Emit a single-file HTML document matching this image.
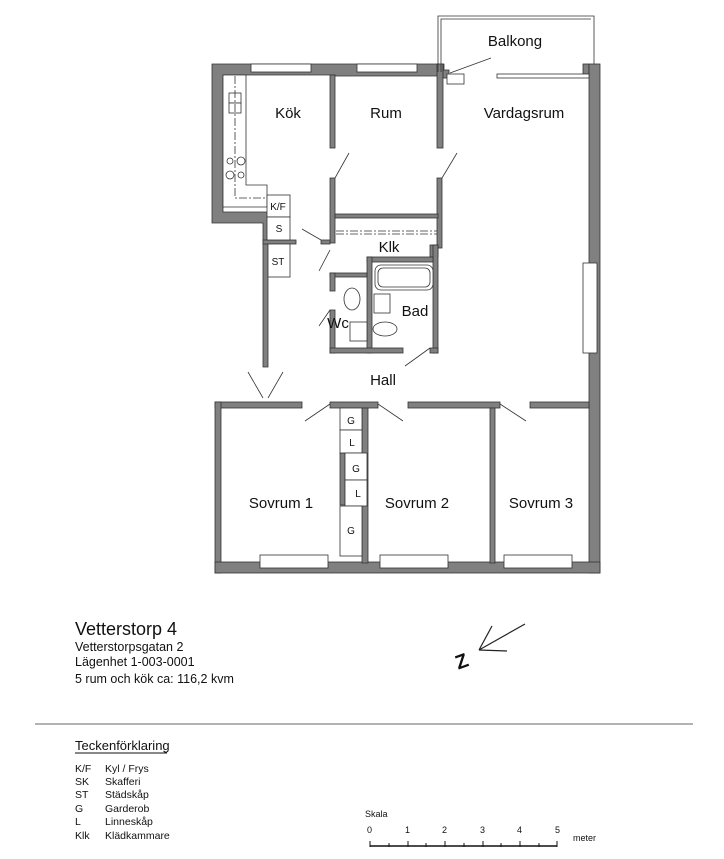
<!DOCTYPE html>
<html><head><meta charset="utf-8"><style>
html,body{margin:0;padding:0;background:#fff;}
svg{display:block;font-family:"Liberation Sans",Arial,sans-serif;}
</style></head><body>
<svg width="724" height="859" viewBox="0 0 724 859" xmlns="http://www.w3.org/2000/svg">
<g fill="#808080" stroke="#333" stroke-width="0.8">
<path d="M212,64 H444 V76 H335 V75 H223 V212 H268 V367 H263 V223 H212 Z"/>
<rect x="330" y="75" width="5" height="73"/>
<rect x="330" y="178" width="5" height="65"/>
<rect x="437" y="64" width="6" height="84"/>
<rect x="437" y="178" width="5" height="70"/>
<rect x="443" y="70" width="6" height="8"/>
<rect x="583" y="64" width="6" height="10"/>
<rect x="589" y="64" width="11" height="509"/>
<rect x="335" y="214" width="103" height="4"/>
<rect x="430" y="245" width="8" height="12"/>
<rect x="433" y="245" width="5" height="108"/>
<rect x="367" y="257" width="66" height="5"/>
<rect x="367" y="257" width="5" height="96"/>
<rect x="330" y="273" width="37" height="4"/>
<rect x="330" y="273" width="5" height="18"/>
<rect x="330" y="310" width="5" height="43"/>
<rect x="330" y="348" width="73" height="5"/>
<rect x="430" y="348" width="8" height="5"/>
<rect x="321" y="240" width="9" height="4"/>
<rect x="263" y="240" width="33" height="4"/>
<rect x="215" y="402" width="87" height="6"/>
<rect x="330" y="402" width="48" height="6"/>
<rect x="408" y="402" width="92" height="6"/>
<rect x="530" y="402" width="59" height="6"/>
<rect x="215" y="402" width="6" height="171"/>
<rect x="215" y="562" width="385" height="11"/>
<rect x="362" y="408" width="6" height="155"/>
<rect x="490" y="408" width="5" height="155"/>
<rect x="340" y="453" width="5" height="52"/>
</g>
<g fill="#fff" stroke="#333" stroke-width="0.8">
<rect x="251" y="64" width="60" height="8"/>
<rect x="357" y="64" width="60" height="8"/>
<rect x="497" y="74" width="92" height="4"/>
<rect x="447" y="74" width="17" height="10"/>
<rect x="583" y="263" width="14" height="90"/>
<rect x="260" y="555" width="68" height="13"/>
<rect x="380" y="555" width="68" height="13"/>
<rect x="504" y="555" width="68" height="13"/>
<path d="M223,75 H246 V185 H267 V207 H223 Z"/>
<rect x="267" y="195" width="23" height="22"/>
<rect x="267" y="217" width="23" height="23"/>
<rect x="268" y="244" width="22" height="33"/>
<rect x="229" y="93" width="12" height="10"/>
<rect x="229" y="103" width="12" height="10"/>
<rect x="340" y="408" width="22" height="22"/>
<rect x="340" y="430" width="22" height="23"/>
<rect x="345" y="453" width="22" height="27"/>
<rect x="345" y="480" width="22" height="26"/>
<rect x="340" y="506" width="22" height="50"/>
<rect x="375" y="265" width="58" height="25" rx="6"/>
<rect x="378" y="268" width="52" height="19" rx="5"/>
<rect x="374" y="294" width="16" height="19"/>
<rect x="350" y="322" width="17" height="19"/>
<ellipse cx="352" cy="299" rx="8" ry="11"/>
<ellipse cx="385" cy="329" rx="12" ry="7"/>
<circle cx="230" cy="161" r="3"/><circle cx="241" cy="161" r="4"/>
<circle cx="230" cy="175" r="4"/><circle cx="241" cy="175" r="3"/>
</g>
<g fill="none" stroke="#333" stroke-width="0.8">
<path d="M438,72 V16 H594 V64"/>
<path d="M441,72 V19 H591"/>
<path d="M235,76 V198 H267" stroke-dasharray="8,2,2,2"/>
<path d="M336,231 H437 M336,234 H437" stroke-dasharray="8,2,2,2"/>
<path d="M335,178 L349,153 M442,178 L457,153 M321,240 L302,229 M330,250 L319,271 M330,310 L319,326 M430,348 L405,366 M450,73 L491,58"/>
<path d="M263,398 L248,372 M268,398 L283,372"/>
<path d="M330,404 L305,421 M378,404 L403,421 M500,404 L526,421"/>
</g>
<g font-size="15" fill="#111" text-anchor="middle">
<text x="288" y="118">Kök</text><text x="386" y="118">Rum</text>
<text x="524" y="118">Vardagsrum</text><text x="515" y="46">Balkong</text>
<text x="389" y="252">Klk</text><text x="415" y="316">Bad</text>
<text x="338" y="328">Wc</text><text x="383" y="385">Hall</text>
<text x="281" y="508">Sovrum 1</text><text x="417" y="508">Sovrum 2</text>
<text x="541" y="508">Sovrum 3</text>
</g>
<g font-size="10" fill="#111" text-anchor="middle">
<text x="278" y="210">K/F</text><text x="279" y="232">S</text><text x="278" y="265">ST</text>
<text x="351" y="424">G</text><text x="352" y="446">L</text><text x="356" y="472">G</text>
<text x="358" y="497">L</text><text x="351" y="534">G</text>
</g>
<text x="75" y="635" font-size="18" fill="#111">Vetterstorp 4</text>
<g font-size="12.5" fill="#111">
<text x="75" y="651">Vetterstorpsgatan 2</text>
<text x="75" y="666">Lägenhet 1-003-0001</text>
<text x="75" y="683">5 rum och kök  ca: 116,2 kvm</text>
</g>
<g stroke="#222" stroke-width="1.2" fill="none">
<path d="M479,650 L525,624 M479,650 L492,626 M479,650 L507,651"/>
</g>
<text x="462" y="668" font-size="20" font-weight="bold" fill="#111" transform="rotate(-20 462 662)" text-anchor="middle">Z</text>
<line x1="35" y1="724" x2="693" y2="724" stroke="#666" stroke-width="1"/>
<text x="75" y="750" font-size="13" fill="#111">Teckenförklaring</text>
<line x1="75" y1="753" x2="167" y2="753" stroke="#111"/>
<g font-size="10.5" fill="#111">
<text x="75" y="772">K/F</text><text x="105" y="772">Kyl / Frys</text>
<text x="75" y="785">SK</text><text x="105" y="785">Skafferi</text>
<text x="75" y="798">ST</text><text x="105" y="798">Städskåp</text>
<text x="75" y="812">G</text><text x="105" y="812">Garderob</text>
<text x="75" y="825">L</text><text x="105" y="825">Linneskåp</text>
<text x="75" y="839">Klk</text><text x="105" y="839">Klädkammare</text>
</g>
<g font-size="9" fill="#111">
<text x="365" y="817">Skala</text>
<text x="367" y="833">0</text><text x="405" y="833">1</text><text x="442" y="833">2</text>
<text x="480" y="833">3</text><text x="517" y="833">4</text><text x="555" y="833">5</text>
<text x="573" y="841">meter</text>
</g>
<g stroke="#111" stroke-width="1">
<line x1="370" y1="846" x2="557" y2="846" stroke-width="1.5"/>
<path d="M370,841V847 M389,843V847 M408,841V847 M426,843V847 M445,841V847 M464,843V847 M483,841V847 M501,843V847 M520,841V847 M539,843V847 M557,841V847"/>
</g>
</svg>
</body></html>
